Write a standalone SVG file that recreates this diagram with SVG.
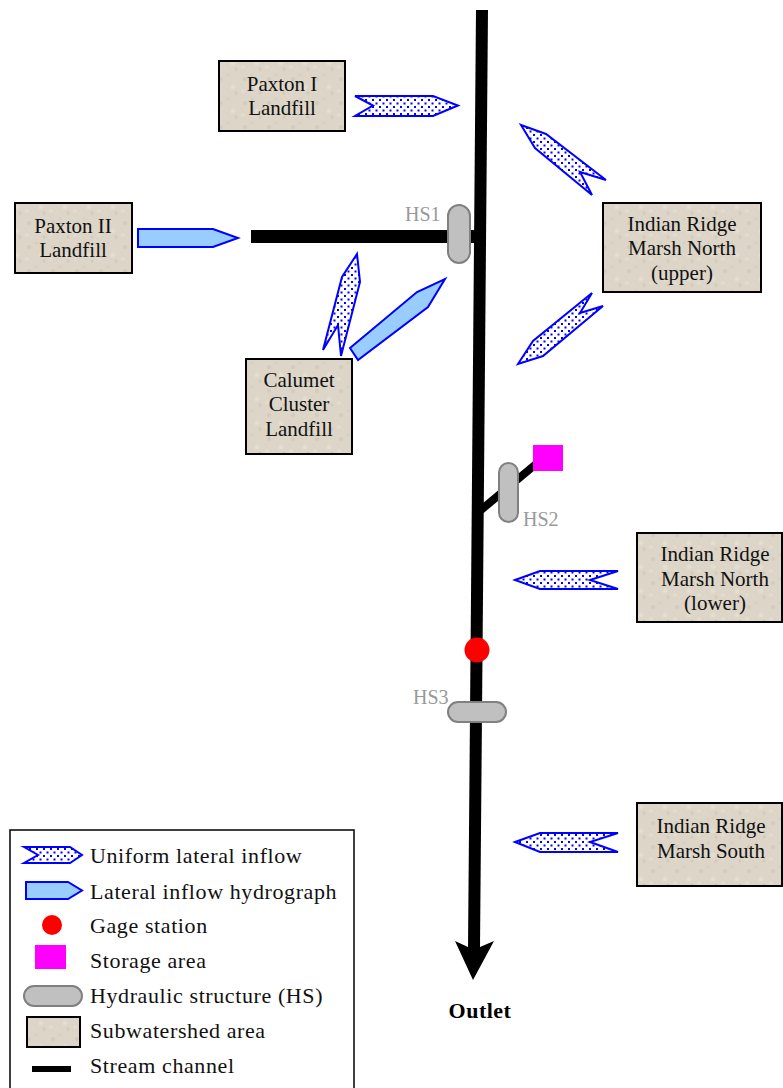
<svg xmlns="http://www.w3.org/2000/svg" width="783" height="1088" viewBox="0 0 783 1088">
<defs>
<pattern id="dots" width="7" height="7" patternUnits="userSpaceOnUse">
<rect width="7" height="7" fill="#ffffff"/>
<rect x="1" y="1" width="2" height="2" fill="#0000ff"/>
<rect x="4.5" y="4.5" width="2" height="2" fill="#0000ff"/>
</pattern>
<pattern id="tex" width="24" height="24" patternUnits="userSpaceOnUse">
<rect width="24" height="24" fill="#ddd6c8"/>
<circle cx="5" cy="7" r="2" fill="#d3ccbd"/>
<circle cx="17" cy="15" r="2.5" fill="#e4ded2"/>
<circle cx="12" cy="3" r="1.5" fill="#d6cfc1"/>
<circle cx="20" cy="21" r="1.5" fill="#d1cabb"/>
<circle cx="3" cy="19" r="1.8" fill="#e3ddd0"/>
</pattern>
<style>
.box{fill:url(#tex);stroke:#000;stroke-width:2}
.bt{font-family:"Liberation Serif","Times New Roman",serif;font-size:21px;text-anchor:middle;fill:#111}
.uni{fill:url(#dots);stroke:#0000ff;stroke-width:2;stroke-linejoin:miter}
.hyd{fill:#99ccff;stroke:#0000ff;stroke-width:2}
.hs{fill:#c0c0c0;stroke:#808080;stroke-width:2}
.hsl{font-family:"Liberation Serif","Times New Roman",serif;font-size:20px;fill:#999999}
.lt{font-family:"Liberation Serif","Times New Roman",serif;font-size:22px;letter-spacing:0.6px;fill:#111}
</style>
</defs>
<rect width="783" height="1088" fill="#ffffff"/>

<g id="connectors">
<line x1="482" y1="10" x2="474" y2="948" stroke="#000" stroke-width="12"/>
<polygon points="455,941 468,947 480,947 494,941 473,980" fill="#000"/>
<line x1="251" y1="236.5" x2="478" y2="236.5" stroke="#000" stroke-width="13"/>
<line x1="475" y1="515" x2="536" y2="464" stroke="#000" stroke-width="8"/>
</g>

<g id="paxton1">
<rect class="box" x="219" y="61" width="126" height="70"/>
<text class="bt" x="282" y="91">Paxton I</text>
<text class="bt" x="282" y="115">Landfill</text>
</g>
<g id="paxton2">
<rect class="box" x="15" y="203" width="117" height="70"/>
<text class="bt" x="73" y="233">Paxton II</text>
<text class="bt" x="73" y="257">Landfill</text>
</g>
<g id="calumet">
<rect class="box" x="246" y="359" width="106" height="95"/>
<text class="bt" x="299" y="387">Calumet</text>
<text class="bt" x="299" y="411">Cluster</text>
<text class="bt" x="299" y="436">Landfill</text>
</g>
<g id="irmn-upper">
<rect class="box" x="603" y="203" width="158" height="89"/>
<text class="bt" x="682" y="231">Indian Ridge</text>
<text class="bt" x="682" y="255">Marsh North</text>
<text class="bt" x="682" y="280">(upper)</text>
</g>
<g id="irmn-lower">
<rect class="box" x="637" y="533" width="145" height="89"/>
<text class="bt" x="715" y="561">Indian Ridge</text>
<text class="bt" x="715" y="586">Marsh North</text>
<text class="bt" x="715" y="610">(lower)</text>
</g>
<g id="irms">
<rect class="box" x="637" y="803" width="145" height="83"/>
<text class="bt" x="711" y="833">Indian Ridge</text>
<text class="bt" x="711" y="858">Marsh South</text>
</g>

<g id="inflow-paxton1"><polygon class="uni" points="355,96 373,105.5 355,116 433,116 458,105.5 433,96"/></g>
<g id="inflow-paxton2"><polygon class="hyd" points="138,229 213,229 238,238 213,247 138,247"/></g>
<g id="inflow-irmn-upper-a"><polygon class="uni" points="521,125 546,134 606,180 580,172 592,195 535,148"/></g>
<g id="inflow-irmn-upper-b"><polygon class="uni" points="518,364 533,341 592,293 580,313 603,306 543,356"/></g>
<g id="inflow-calumet-a"><polygon class="uni" points="357,254 360,282 341,356 338,325 323,350 342,277"/></g>
<g id="inflow-calumet-b"><polygon class="hyd" points="350,348 417,292 445,279 428,307 358,360"/></g>
<g id="inflow-irmn-lower"><polygon class="uni" points="515,580 540,571 618,571 590,580 618,589 540,589"/></g>
<g id="inflow-irms"><polygon class="uni" points="515,842 540,833 618,833 590,842 618,852 540,852"/></g>

<g id="hs1">
<text class="hsl" x="405" y="221">HS1</text>
<rect class="hs" x="448" y="205" width="22" height="58" rx="11"/>
</g>
<g id="storage"><rect x="533" y="445" width="30" height="26" fill="#ff00ff"/></g>
<g id="hs2">
<rect class="hs" x="499" y="463" width="19" height="59" rx="9.5"/>
<text class="hsl" x="523" y="526">HS2</text>
</g>
<g id="gage"><circle cx="477" cy="650" r="12.5" fill="#ff0000"/></g>
<g id="hs3">
<text class="hsl" x="413" y="704">HS3</text>
<rect class="hs" x="448" y="702" width="58" height="20" rx="10"/>
</g>
<g id="outlet">
<text x="480" y="1018" font-family="Liberation Serif, Times New Roman, serif" font-size="22" font-weight="bold" letter-spacing="0.5" text-anchor="middle" fill="#000">Outlet</text>
</g>

<g id="legend">
<rect x="10" y="830" width="344" height="270" fill="#ffffff" stroke="#000" stroke-width="1.5"/>
<polygon class="uni" points="24,847 38,855 24,863 70,863 82,855 70,847"/>
<text class="lt" x="90" y="863">Uniform lateral inflow</text>
<polygon class="hyd" points="26,882 68,882 82,890.5 68,899 26,899"/>
<text class="lt" x="90" y="899">Lateral inflow hydrograph</text>
<circle cx="52" cy="925" r="10" fill="#ff0000"/>
<text class="lt" x="90" y="933">Gage station</text>
<rect x="35" y="945" width="31" height="24" fill="#ff00ff"/>
<text class="lt" x="90" y="968">Storage area</text>
<rect class="hs" x="24" y="986" width="58" height="20" rx="10"/>
<text class="lt" x="90" y="1003">Hydraulic structure (HS)</text>
<rect class="box" x="27" y="1017" width="53" height="30"/>
<text class="lt" x="90" y="1038">Subwatershed area</text>
<line x1="32" y1="1069" x2="71" y2="1069" stroke="#000" stroke-width="6"/>
<text class="lt" x="90" y="1073">Stream channel</text>
</g>
</svg>
